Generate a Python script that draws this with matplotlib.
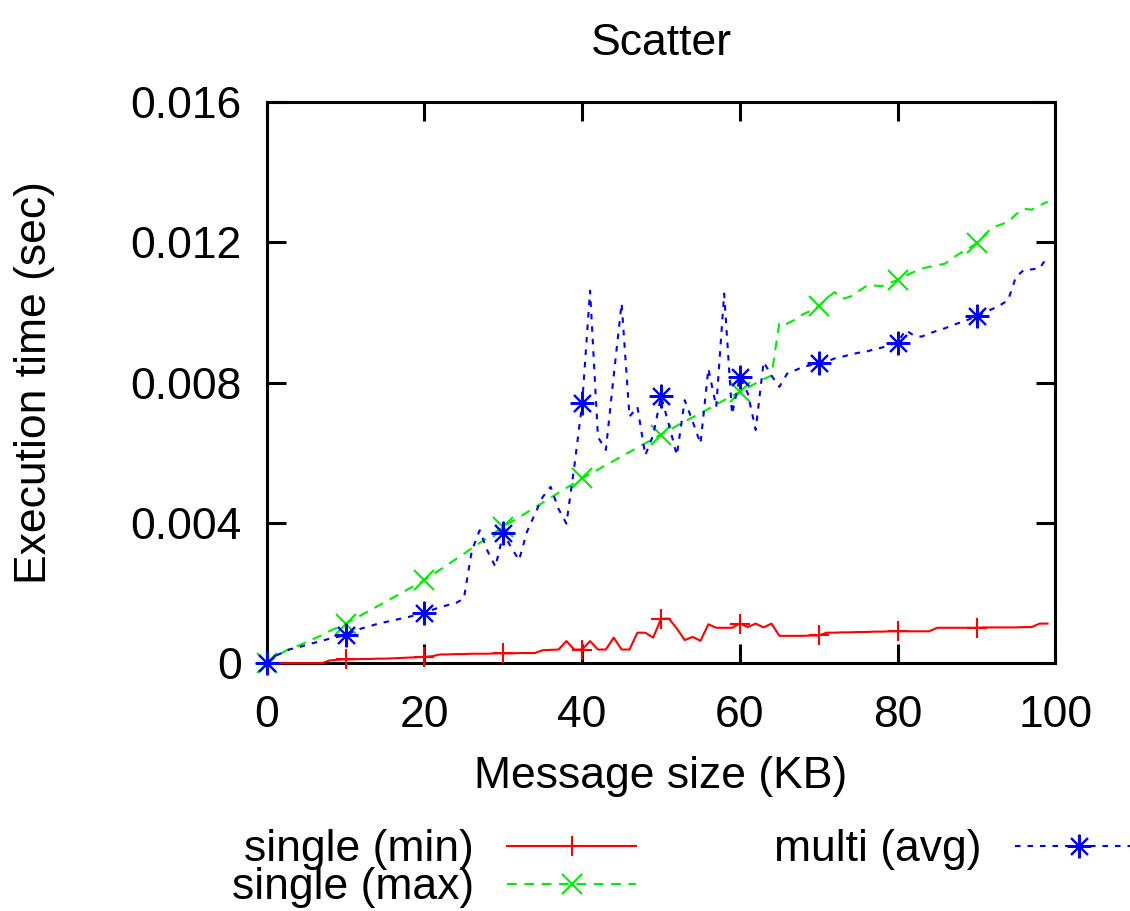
import numpy as np
import matplotlib
matplotlib.use("Agg")
import matplotlib.pyplot as plt

plt.rcParams["font.family"] = ["Liberation Sans", "DejaVu Sans"]
plt.rcParams["lines.scale_dashes"] = False

# Message size (KB)
sizes = np.arange(100)

# Execution time in ms
single_min_ms = [
    0, 0, 0, 0, 0, 0, 0, 0, 0.08, 0.10,
    0.11, 0.11, 0.12, 0.12, 0.13, 0.13, 0.14, 0.15, 0.16, 0.17,
    0.18, 0.20, 0.25, 0.25, 0.26, 0.26, 0.27, 0.27, 0.27, 0.28,
    0.28, 0.28, 0.29, 0.29, 0.29, 0.37, 0.38, 0.39, 0.63, 0.39,
    0.39, 0.63, 0.39, 0.39, 0.73, 0.39, 0.39, 0.87, 0.87, 0.73,
    1.27, 1.27, 0.99, 0.66, 0.75, 0.64, 1.11, 1.01, 1.01, 1.01,
    1.13, 1.03, 1.13, 1.02, 1.13, 0.78, 0.78, 0.78, 0.78, 0.79,
    0.79, 0.87, 0.87, 0.88, 0.88, 0.89, 0.89, 0.90, 0.90, 0.91,
    0.91, 0.91, 0.91, 0.91, 0.91, 1.01, 1.01, 1.01, 1.01, 1.01,
    1.01, 1.02, 1.02, 1.02, 1.02, 1.02, 1.03, 1.03, 1.13, 1.13,
]
single_max_ms = [
    0.00, 0.15, 0.30, 0.43, 0.50, 0.60, 0.70, 0.80, 0.92, 1.02,
    1.13, 1.25, 1.37, 1.50, 1.62, 1.74, 1.87, 1.99, 2.12, 2.24,
    2.37, 2.52, 2.67, 2.82, 2.97, 3.12, 3.28, 3.43, 3.58, 3.74,
    3.89, 4.03, 4.16, 4.30, 4.44, 4.58, 4.72, 4.86, 5.00, 5.13,
    5.27, 5.40, 5.52, 5.65, 5.77, 5.90, 6.02, 6.15, 6.27, 6.40,
    6.52, 6.64, 6.77, 6.89, 7.01, 7.13, 7.25, 7.38, 7.50, 7.62,
    7.74, 7.86, 7.98, 8.10, 8.20, 9.72, 9.68, 9.80, 9.95, 10.05,
    10.18, 10.40, 10.58, 10.39, 10.45, 10.60, 10.75, 10.77, 10.75, 10.85,
    10.92, 11.05, 11.15, 11.25, 11.30, 11.35, 11.39, 11.56, 11.70, 11.83,
    11.97, 12.20, 12.43, 12.50, 12.58, 12.80, 12.96, 12.93, 13.05, 13.16,
]
multi_avg_ms = [
    0.00, 0.20, 0.30, 0.40, 0.45, 0.52, 0.58, 0.64, 0.70, 0.75,
    0.80, 0.90, 0.99, 1.05, 1.12, 1.17, 1.22, 1.27, 1.32, 1.38,
    1.44, 1.52, 1.60, 1.66, 1.72, 1.84, 3.20, 3.79, 3.20, 2.75,
    3.70, 3.30, 2.94, 3.75, 4.25, 4.74, 5.03, 4.40, 3.98, 5.60,
    7.41, 10.62, 6.45, 6.08, 8.20, 10.26, 7.03, 7.31, 5.93, 6.50,
    7.61, 6.80, 5.93, 7.50, 6.90, 6.26, 8.40, 7.31, 10.54, 7.10,
    8.17, 7.69, 6.65, 8.59, 8.20, 7.88, 8.26, 8.35, 8.45, 8.50,
    8.55, 8.60, 8.69, 8.74, 8.80, 8.85, 8.88, 8.95, 9.00, 9.07,
    9.14, 9.50, 9.35, 9.31, 9.40, 9.48, 9.55, 9.64, 9.72, 9.80,
    9.90, 10.00, 10.10, 10.21, 10.35, 11.02, 11.21, 11.23, 11.26, 11.59,
]

fig = plt.figure(figsize=(11.3, 9.11), dpi=100)
ax = fig.add_axes([0.236, 0.272, 0.698, 0.616])

fs = 32
asterisk = (8, 2, 0)

ax.plot(sizes, np.array(single_min_ms) * 1e-3, color="#ff0000", lw=1.5,
        marker="+", ms=15, mew=1.5, markevery=10, label="single (min)",
        clip_on=False, zorder=3)
ax.plot(sizes, np.array(single_max_ms) * 1e-3, color="#00ee00", lw=1.5,
        dashes=[7, 5.5], marker="x", ms=15, mew=1.5, markevery=10,
        label="single (max)", clip_on=False, zorder=3)
ax.plot(sizes, np.array(multi_avg_ms) * 1e-3, color="#0000ff", lw=1.5,
        dashes=[4, 5], marker=asterisk, ms=17, mew=1.5, markevery=10,
        label="multi (avg)", clip_on=False, zorder=3)

ax.set_xlim(0, 100)
ax.set_ylim(0, 0.016)
ax.set_xticks([0, 20, 40, 60, 80, 100])
ax.set_yticks([0, 0.004, 0.008, 0.012, 0.016])
ax.set_yticklabels(["0", "0.004", "0.008", "0.012", "0.016"])
ax.tick_params(direction="in", length=14, width=2.2, top=True, right=True,
               labelsize=fs)
ax.tick_params(axis="x", pad=23)
ax.tick_params(axis="y", pad=18)
for s in ax.spines.values():
    s.set_linewidth(2.2)

ax.set_xlabel("Message size (KB)", fontsize=fs, labelpad=14)
ax.set_ylabel("Execution time (sec)", fontsize=fs, labelpad=54)
ax.set_title("Scatter", fontsize=fs, pad=34)

fig.legend(loc="upper left", bbox_to_anchor=(0.205, 0.0895), ncol=2,
           frameon=False, fontsize=fs, markerfirst=False, handlelength=2.9,
           handletextpad=0.75, columnspacing=3.1, labelspacing=-0.07,
           borderpad=0, borderaxespad=0)

fig.savefig("out.png", dpi=100)
